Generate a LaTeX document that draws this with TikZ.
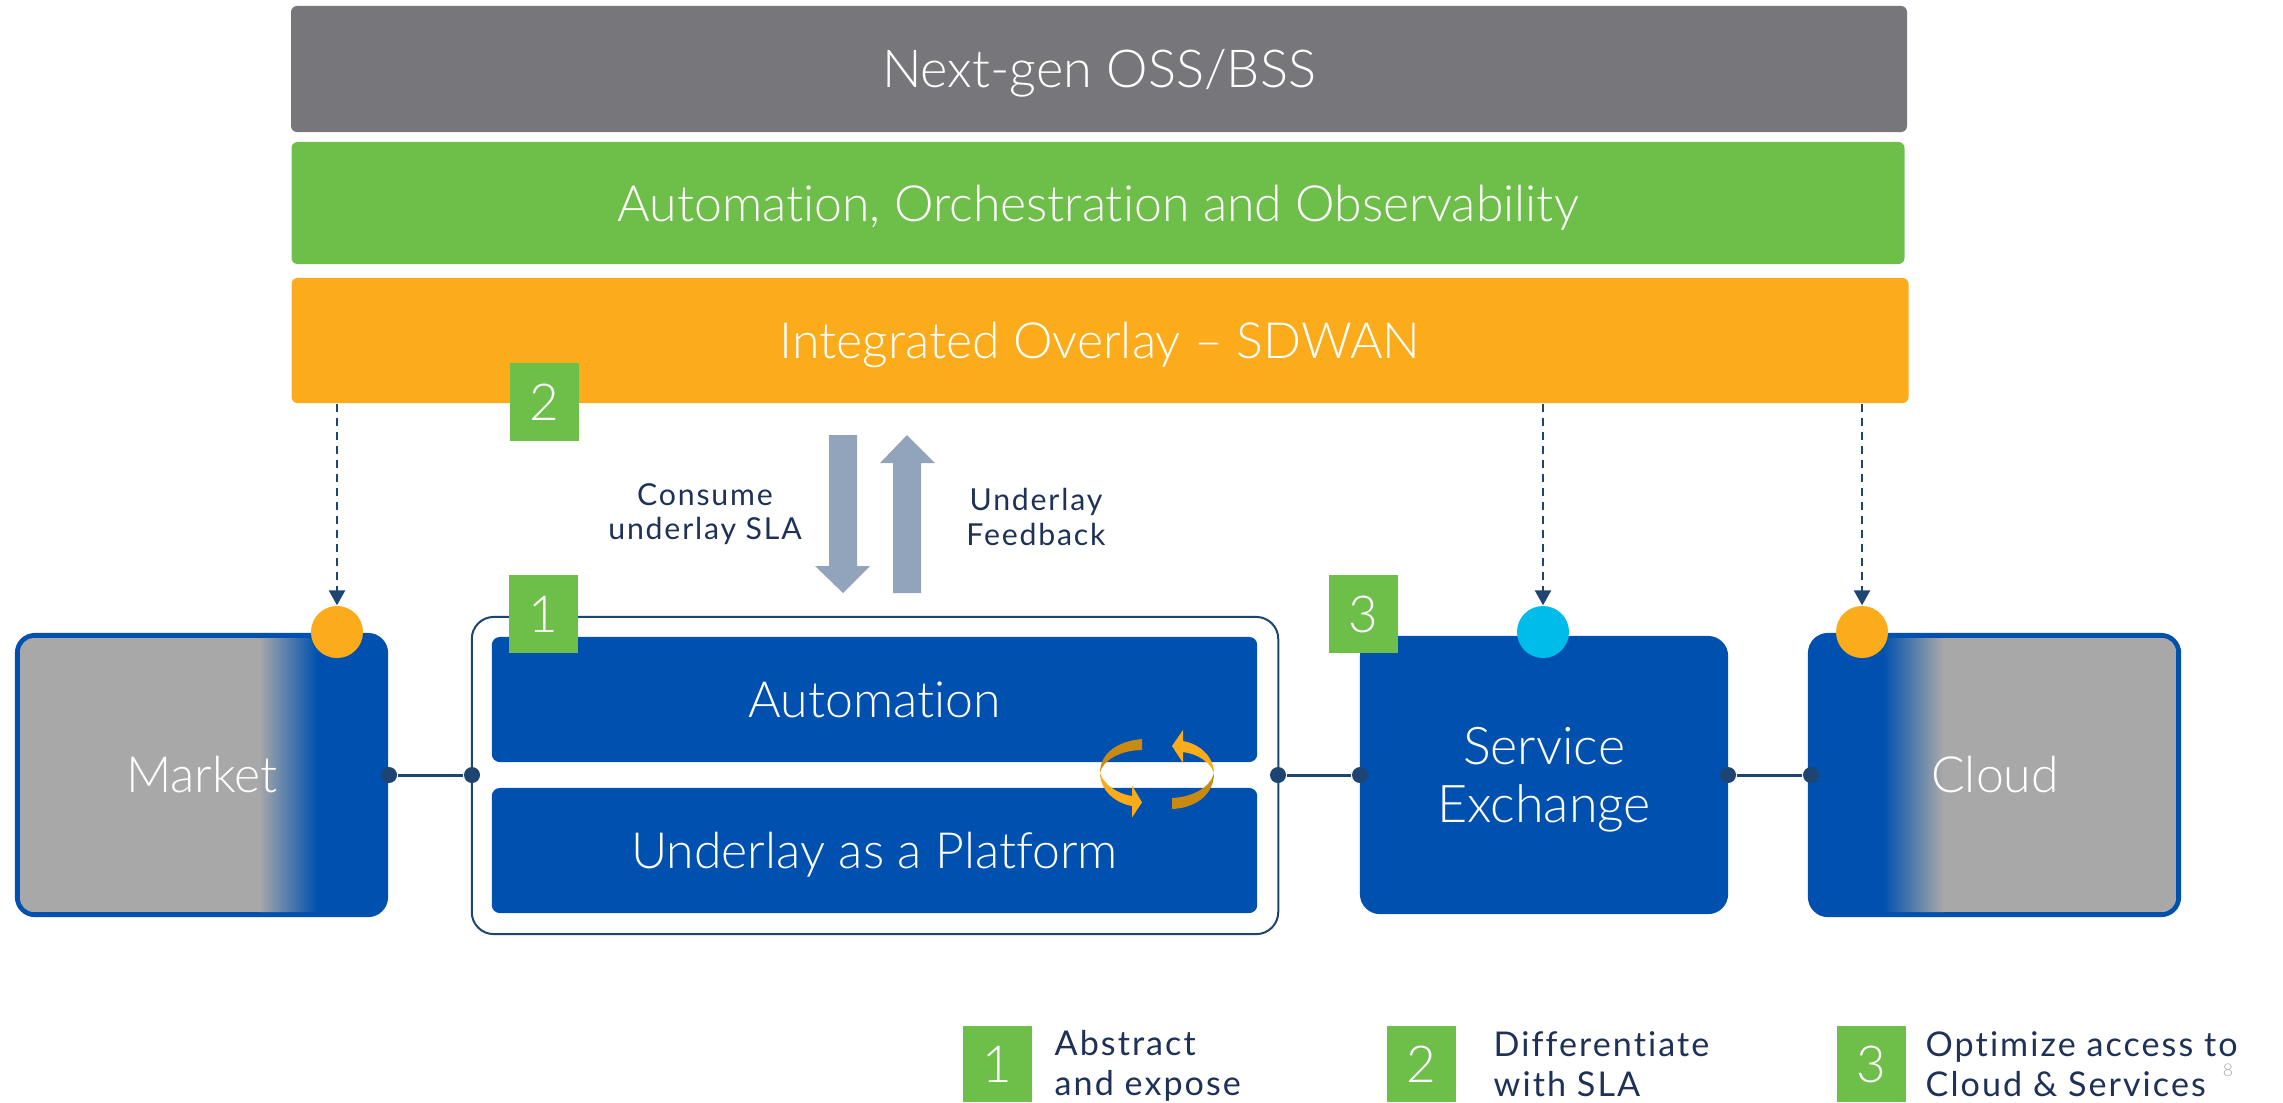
\documentclass[tikz,border=0pt]{standalone}
\usepackage{fontspec}
\setmainfont{Lato}[UprightFont=* Light, Ligatures=NoCommon]
\newfontfamily\legendfont{Lato}[LetterSpace=6.0, Ligatures=NoCommon]
\usetikzlibrary{arrows.meta}
\definecolor{barGray}{HTML}{76767B}
\definecolor{barGreen}{HTML}{6EBE4A}
\definecolor{barOrange}{HTML}{FCAB1A}
\definecolor{darkOrange}{HTML}{C98A12}
\definecolor{boxBlue}{HTML}{0051AF}
\definecolor{lineNavy}{HTML}{1E4471}
\definecolor{textNavy}{HTML}{1E3157}
\definecolor{fadeGray}{HTML}{A8A8A8}
\definecolor{arrowGray}{HTML}{92A4BB}
\definecolor{dotCyan}{HTML}{00BCEB}
\newcommand{\dropped}[1]{\raisebox{-0.045cm}[\height][\depth]{#1}}
\tikzset{
  bar/.style={inner sep=0pt, rounded corners=0.06cm, text=white, font=\fontsize{14.2}{16.5}\selectfont},
  block/.style={inner sep=0pt, fill=boxBlue, text=white, font=\fontsize{14.2}{16.5}\selectfont},
  badge/.style={inner sep=0pt, fill=barGreen, text=white, minimum width=0.69cm, minimum height=0.78cm, font=\fontsize{14.5}{16}\selectfont},
  port/.style={circle, inner sep=0pt, minimum size=0.16cm, fill=lineNavy},
  tag/.style={circle, inner sep=0pt, minimum size=0.52cm},
  link/.style={color=lineNavy, line width=0.03cm},
  feed/.style={color=lineNavy, line width=0.025cm, dash pattern=on 0.08cm off 0.06cm, -{Triangle[width=0.16cm, length=0.15cm]}},
  note/.style={inner sep=0pt, text=textNavy, align=center, font=\legendfont\fontsize{8.6}{9.7}\selectfont},
  legend/.style={inner sep=0pt, text=textNavy, align=left, anchor=west, font=\legendfont\fontsize{9.7}{11.4}\selectfont}
}
\begin{document}
\begin{tikzpicture}[x=0.01cm, y=-0.01cm]
      \useasboundingbox (0, 0) rectangle (2283, 1102);
      % top bars
      \node[bar, fill=barGray, minimum width=16.15cm, minimum height=1.26cm, font=\fontsize{14.9}{17}\selectfont] (ossbar) at (1099, 69) {\dropped{Next-gen OSS/BSS}};
      \node[bar, fill=barGreen, minimum width=16.12cm, minimum height=1.22cm] (autobar) at (1098, 203) {\dropped{Automation, Orchestration and Observability}};
      \node[bar, fill=barOrange, minimum width=16.16cm, minimum height=1.25cm] (overlaybar) at (1100, 340.5) {\dropped{Integrated Overlay -- SDWAN}};
      % block arrows
      \fill[arrowGray] (829, 435)--(857, 435)--(857, 566)--(870, 566)--(843, 593)--(815, 566)--(829, 566)--cycle;
      \fill[arrowGray] (893, 593)--(921, 593)--(921, 463)--(935, 463)--(907, 435)--(880, 463)--(893, 463)--cycle;
      \node[note] (consume) at (705, 514) {Consume\\underlay SLA};
      \node[note] (feedback) at (1036, 517) {Underlay\\Feedback};
      % market
      \node[block, rounded corners=0.2cm, minimum width=3.73cm, minimum height=2.84cm] (market) at (201.5, 775) {};
      \begin{scope}
        \clip[rounded corners=0.14cm] (20, 638) rectangle (383, 912);
        \fill[fadeGray] (20, 638) rectangle (259, 912);
        \shade[left color=fadeGray, right color=boxBlue] (259, 638) rectangle (317, 912);
      \end{scope}
      \node[text=white, font=\fontsize{14.2}{16.5}\selectfont] (marketlabel) at (202, 775) {Market};
      % cloud
      \node[block, rounded corners=0.2cm, minimum width=3.73cm, minimum height=2.84cm] (cloud) at (1994.5, 775) {};
      \begin{scope}
        \clip[rounded corners=0.14cm] (1813, 638) rectangle (2176, 912);
        \fill[fadeGray] (1943, 638) rectangle (2176, 912);
        \shade[left color=boxBlue, right color=fadeGray] (1883, 638) rectangle (1943, 912);
      \end{scope}
      \node[text=white, font=\fontsize{14.2}{16.5}\selectfont] (cloudlabel) at (1995, 775) {Cloud};
      % underlay group
      \node[draw=lineNavy, line width=0.02cm, rounded corners=0.22cm, minimum width=8.06cm, minimum height=3.17cm] (group) at (875, 775.5) {};
      \node[block, rounded corners=0.08cm, minimum width=7.65cm, minimum height=1.25cm] (automation) at (874.5, 699.5) {Automation};
      \node[block, rounded corners=0.08cm, minimum width=7.65cm, minimum height=1.25cm] (platform) at (874.5, 850.5) {\dropped{Underlay as a Platform}};
      % service exchange
      \node[block, rounded corners=0.2cm, minimum width=3.68cm, minimum height=2.78cm, align=center, font=\fontsize{14.8}{16.5}\selectfont] (exchange) at (1544, 775) {\dropped{Service}\\\dropped{Exchange}};
      % loop arrows
      \fill[darkOrange] (1142, 739) .. controls (1118, 741) and (1100, 753) .. (1100, 773) .. controls (1102, 761) and (1120, 750) .. (1142, 750)--cycle;
      \fill[barOrange] (1100, 773) .. controls (1100, 790) and (1115, 803) .. (1132, 806)--(1132, 817.5)--(1142, 802.3)--(1132, 785.5)--(1132, 796) .. controls (1118, 794) and (1104, 785) .. (1100, 773)--cycle;
      \fill[barOrange] (1214, 773) .. controls (1214, 757) and (1200, 744) .. (1183, 741)--(1183, 730)--(1172, 746)--(1183, 763)--(1183, 752) .. controls (1198, 754) and (1210, 762) .. (1214, 773)--cycle;
      \fill[darkOrange] (1214, 773) .. controls (1214, 795) and (1195, 808) .. (1172, 809)--(1172, 798) .. controls (1192, 797) and (1210, 788) .. (1214, 773)--cycle;
      % ports and links
      \node[port] (marketport) at (389, 775) {};
      \node[port] (groupleft) at (472, 775) {};
      \node[port] (groupright) at (1278, 775) {};
      \node[port] (exchangeleft) at (1360, 775) {};
      \node[port] (exchangeright) at (1728, 775) {};
      \node[port] (cloudport) at (1811, 775) {};
      \draw[link] (marketport)--(groupleft);
      \draw[link] (groupright)--(exchangeleft);
      \draw[link] (exchangeright)--(cloudport);
      % tags and overlay feeds
      \node[tag, fill=barOrange] (markettag) at (337, 632) {};
      \node[tag, fill=dotCyan] (exchangetag) at (1543, 632) {};
      \node[tag, fill=barOrange] (cloudtag) at (1862, 632) {};
      \draw[feed] (overlaybar.south -| markettag.north)--(markettag.north);
      \draw[feed] (overlaybar.south -| exchangetag.north)--(exchangetag.north);
      \draw[feed] (overlaybar.south -| cloudtag.north)--(cloudtag.north);
      % badges
      \node[badge] (badgeb) at (544.5, 402) {2};
      \node[badge] (badgea) at (543.5, 614) {1};
      \node[badge] (badgec) at (1363.5, 614) {3};
      % legend
      \node[badge, minimum height=0.76cm] (legenda) at (997.5, 1064) {1};
      \node[legend] (legendatext) at (1054, 1065.5) {Abstract\\and expose};
      \node[badge, minimum height=0.76cm] (legendb) at (1421.5, 1064) {2};
      \node[legend] (legendbtext) at (1493, 1064.5) {Differentiate\\with SLA};
      \node[badge, minimum height=0.76cm] (legendc) at (1871.5, 1064) {3};
      \node[legend] (legendctext) at (1925, 1064.5) {Optimize access to\\Cloud \& Services};
      \node[text=fadeGray, inner sep=0pt, font=\fontsize{5}{6}\selectfont] (pagenum) at (2228, 1070) {8};
    \end{tikzpicture}
\end{document}
